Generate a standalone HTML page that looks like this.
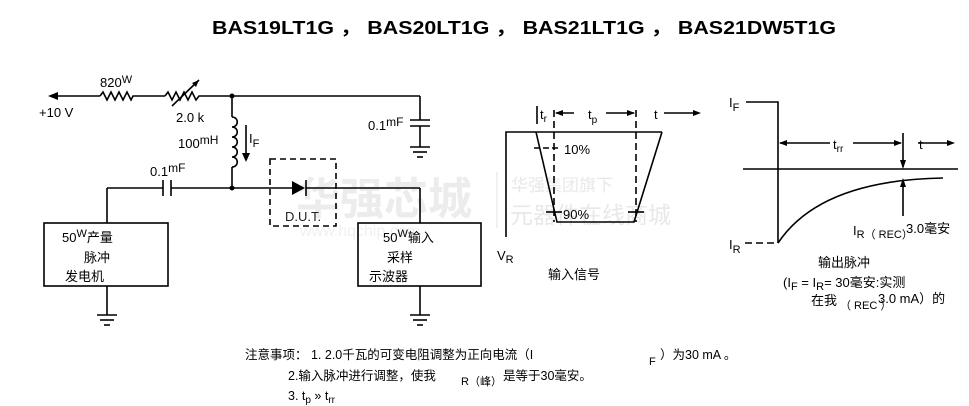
<!DOCTYPE html>
<html><head><meta charset="utf-8"><style>
body{margin:0;background:#fff}
svg{display:block}
text{font-family:"Liberation Sans","Noto Sans CJK SC",sans-serif;fill:#000}
</style></head><body>
<svg width="969" height="406" viewBox="0 0 969 406" xmlns="http://www.w3.org/2000/svg">
<text x="296" y="214" font-size="44" font-weight="bold" style="fill:#ececec">华强芯城</text>
<text x="300" y="236" font-size="16" style="fill:#f0f0f0">www.hqchip.com</text>
<text x="511" y="191" font-size="17" style="fill:#e8e8e8">华强集团旗下</text>
<text x="510" y="223" font-size="23" style="fill:#e8e8e8">元器件在线商城</text>
<line x1="497" y1="172" x2="497" y2="228" stroke="#ececec" stroke-width="1.5"/>

<text x="212" y="34" font-size="18" font-weight="bold" textLength="624" lengthAdjust="spacingAndGlyphs">BAS19LT1G ，  BAS20LT1G ，  BAS21LT1G ，  BAS21DW5T1G</text>

<g stroke="#000" stroke-width="1.6" fill="none">
<line x1="55" y1="96" x2="100" y2="96"/>
<polyline points="100,96 103,92 107,100 111,92 115,100 119,92 123,100 127,92 131,100 133,96 165,96"/>
<polyline points="165,96 168,92 172,100 176,92 180,100 184,92 188,100 192,92 196,100 199,96 420,96"/>
<line x1="172" y1="106" x2="199" y2="80"/>
<line x1="420" y1="96" x2="420" y2="120"/>
<line x1="410" y1="120" x2="430" y2="120"/>
<line x1="410" y1="126" x2="430" y2="126"/>
<line x1="420" y1="126" x2="420" y2="147"/>
<line x1="410" y1="147" x2="430" y2="147"/>
<line x1="413" y1="152" x2="427" y2="152"/>
<line x1="417" y1="157" x2="423" y2="157"/>
<line x1="232" y1="96" x2="232" y2="117"/>
<path d="M232,117 c7,0 7,10 0,10 c7,0 7,10 0,10 c7,0 7,10 0,10 c7,0 7,10 0,10 c7,0 7,10 0,10"/>
<line x1="232" y1="167" x2="232" y2="188"/>
<line x1="107" y1="188" x2="163" y2="188"/>
<line x1="163" y1="180" x2="163" y2="196"/>
<line x1="171" y1="180" x2="171" y2="196"/>
<line x1="171" y1="188" x2="292" y2="188"/>
<line x1="306" y1="188" x2="420" y2="188"/>
<line x1="306" y1="180" x2="306" y2="196"/>
<line x1="420" y1="188" x2="420" y2="223"/>
<line x1="107" y1="188" x2="107" y2="223"/>
<rect x="44" y="223" width="124" height="63"/>
<line x1="107" y1="286" x2="107" y2="315"/>
<line x1="97" y1="315" x2="117" y2="315"/>
<line x1="100" y1="320" x2="114" y2="320"/>
<line x1="104" y1="325" x2="110" y2="325"/>
<rect x="358" y="223" width="123" height="63"/>
<line x1="420" y1="286" x2="420" y2="315"/>
<line x1="410" y1="315" x2="430" y2="315"/>
<line x1="413" y1="320" x2="427" y2="320"/>
<line x1="417" y1="325" x2="423" y2="325"/>
<rect x="270" y="159" width="66" height="67" stroke-dasharray="6,4"/>
<line x1="246" y1="125" x2="246" y2="155"/>
</g>
<polygon points="48,96 58,92 58,100" fill="#000"/>
<polygon points="199,80 192,83 196,87" fill="#000"/>
<polygon points="292,181 292,195 305,188" fill="#000"/>
<polygon points="242,153 250,153 246,162" fill="#000"/>
<circle cx="232" cy="96" r="2.5" fill="#000"/>
<circle cx="232" cy="188" r="2.5" fill="#000"/>

<g font-size="13">
<text x="100" y="87">820<tspan font-size="11" dy="-4">W</tspan></text>
<text x="39" y="117">+10 V</text>
<text x="176" y="122">2.0 k</text>
<text x="368" y="130">0.1<tspan font-size="12" dy="-4">mF</tspan></text>
<text x="178" y="148">100<tspan font-size="12" dy="-4">mH</tspan></text>
<text x="249" y="143">I<tspan font-size="11" dy="4">F</tspan></text>
<text x="150" y="176">0.1<tspan font-size="12" dy="-4">mF</tspan></text>
<text x="285" y="221" style="fill:#222">D.U.T.</text>
<text x="62" y="242">50<tspan font-size="11" dy="-5">W</tspan><tspan dy="5">产量</tspan></text>
<text x="84" y="262">脉冲</text>
<text x="65" y="281">发电机</text>
<text x="383" y="242">50<tspan font-size="11" dy="-5">W</tspan><tspan dy="5">输入</tspan></text>
<text x="387" y="262">采样</text>
<text x="369" y="281">示波器</text>
</g>

<g stroke="#000" stroke-width="1.6" fill="none">
<polyline points="506,237 506,132 662,132"/>
<polyline points="536,132 557,222 634,222 662,132"/>
<line x1="554" y1="110" x2="554" y2="222" stroke-dasharray="7,4"/>
<line x1="636" y1="110" x2="636" y2="222" stroke-dasharray="7,4"/>
<line x1="537" y1="106" x2="537" y2="124"/>
<line x1="534" y1="148" x2="560" y2="148" stroke-dasharray="6,3"/>
<line x1="546" y1="212" x2="562" y2="212"/>
<line x1="628" y1="212" x2="644" y2="212"/>
<line x1="556" y1="113" x2="574" y2="113"/>
<line x1="606" y1="113" x2="634" y2="113"/>
<line x1="664" y1="113" x2="696" y2="113"/>
</g>
<polygon points="555,113 563,110 563,116" fill="#000"/>
<polygon points="635,113 627,110 627,116" fill="#000"/>
<polygon points="701,113 693,110 693,116" fill="#000"/>
<g font-size="13">
<text x="540" y="119">t<tspan font-size="10" dy="3">r</tspan></text>
<text x="588" y="119">t<tspan font-size="10" dy="4">p</tspan></text>
<text x="654" y="119">t</text>
<text x="564" y="154">10%</text>
<text x="563" y="219">90%</text>
<text x="497" y="260">V<tspan font-size="11" dy="3">R</tspan></text>
<text x="548" y="279">输入信号</text>
</g>

<g stroke="#000" stroke-width="1.6" fill="none">
<polyline points="746,102 778,102 778,243"/>
<line x1="745" y1="243" x2="776" y2="243" stroke-dasharray="7,4"/>
<line x1="743" y1="169" x2="958" y2="169"/>
<path d="M778,243 Q820,180 943,178"/>
<line x1="780" y1="143" x2="830" y2="143"/>
<line x1="853" y1="143" x2="901" y2="143"/>
<line x1="903" y1="133" x2="903" y2="167"/>
<line x1="903" y1="180" x2="903" y2="216"/>
<line x1="918" y1="143" x2="948" y2="143"/>
</g>
<polygon points="779,143 787,140 787,146" fill="#000"/>
<polygon points="902,143 894,140 894,146" fill="#000"/>
<polygon points="903,169 900,160 906,160" fill="#000"/>
<polygon points="903,178 900,187 906,187" fill="#000"/>
<polygon points="955,143 947,140 947,146" fill="#000"/>
<g font-size="13">
<text x="729" y="107">I<tspan font-size="11" dy="4">F</tspan></text>
<text x="833" y="149">t<tspan font-size="10" dy="3">rr</tspan></text>
<text x="919" y="149">t</text>
<text x="729" y="249">I<tspan font-size="11" dy="4">R</tspan></text>
<text x="853" y="235">I<tspan font-size="11" dy="3">R（ REC）</tspan></text>
<text x="906" y="233">3.0毫安</text>
<text x="818" y="267">输出脉冲</text>
<text x="783" y="287">(I<tspan font-size="11" dy="3">F</tspan><tspan dy="-3"> = I</tspan><tspan font-size="11" dy="3">R</tspan><tspan dy="-3">= 30毫安:实测</tspan></text>
<text x="811" y="305">在我</text>
<text x="840" y="309" font-size="11">（ REC ）</text>
<text x="878" y="303">3.0 mA）的</text>
</g>

<g font-size="12.5">
<text x="245" y="359">注意事项： 1. 2.0千瓦的可变电阻调整为正向电流（I</text>
<text x="649" y="365" font-size="11">F</text>
<text x="660" y="359">）为30 mA 。</text>
<text x="288" y="380">2.输入脉冲进行调整，使我</text>
<text x="461" y="385" font-size="11">R（峰）</text>
<text x="503" y="380">是等于30毫安。</text>
<text x="288" y="400">3. t<tspan font-size="10" dy="3">p</tspan><tspan dy="-3"> » t</tspan><tspan font-size="10" dy="3">rr</tspan></text>
</g>
</svg>
</body></html>
